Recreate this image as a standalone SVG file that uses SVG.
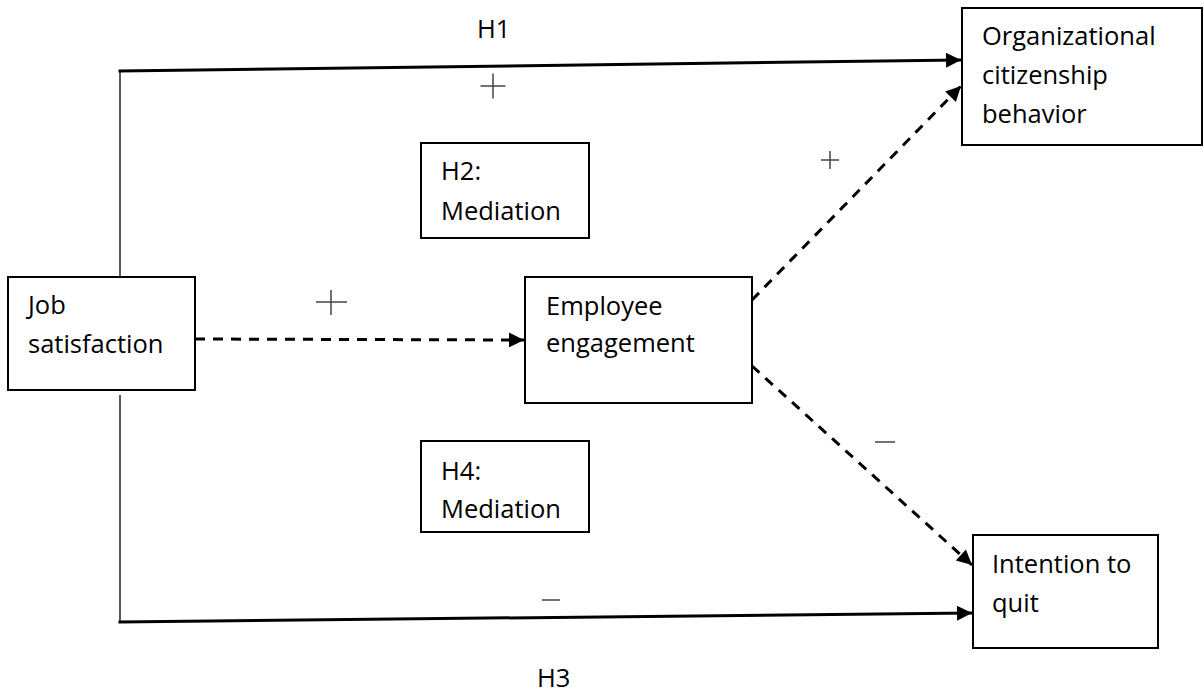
<svg xmlns="http://www.w3.org/2000/svg" width="1204" height="694" viewBox="0 0 1204 694">
<style>
.box{fill:#fff;stroke:#000;stroke-width:2}
.t{font-family:"Open Sans","Liberation Sans",sans-serif;font-size:25.5px;fill:#000}
.solid{fill:none;stroke:#000;stroke-width:3}
.thin{fill:none;stroke:#222;stroke-width:1.5}
.dash{fill:none;stroke:#000;stroke-width:3;stroke-dasharray:10 8}
.sign{fill:none;stroke:#444;stroke-width:1.5}
</style>
<defs>
<marker id="ah" viewBox="0 0 10 10" refX="10" refY="5" markerWidth="17" markerHeight="15" markerUnits="userSpaceOnUse" orient="auto">
<path d="M0,0 L10,5 L0,10 z" fill="#000"/>
</marker>
</defs>
<rect width="1204" height="694" fill="#fff"/>
<g id="connectors">
<line class="thin" x1="120" y1="71" x2="120" y2="277"/>
<line class="solid" x1="118.5" y1="71" x2="961" y2="60" marker-end="url(#ah)"/>
<line class="thin" x1="120" y1="395" x2="120" y2="622"/>
<line class="solid" x1="118.5" y1="622" x2="972" y2="613" marker-end="url(#ah)"/>
<line class="dash" x1="195" y1="339" x2="524" y2="340" marker-end="url(#ah)"/>
<line class="dash" x1="752" y1="300" x2="961" y2="86" marker-end="url(#ah)"/>
<line class="dash" x1="752" y1="366" x2="972" y2="565" marker-end="url(#ah)"/>
</g>
<g id="labels">
<text class="t" x="477" y="38">H1</text>
<text class="t" x="537" y="687">H3</text>
<path class="sign" d="M480.5,86 H505.5 M493,73.5 V98.5"/>
<path class="sign" d="M316,302 H347 M331,290 V315"/>
<path class="sign" d="M821,160 H839 M830,151 V169"/>
<path class="sign" d="M875,442 H895"/>
<path class="sign" d="M542,600 H560"/>
</g>
<g id="job-satisfaction">
<rect class="box" x="8" y="277" width="187" height="113"/>
<text class="t" x="28" y="314">Job</text>
<text class="t" x="28" y="353">satisfaction</text>
</g>
<g id="employee-engagement">
<rect class="box" x="525" y="277" width="227" height="126"/>
<text class="t" x="546" y="315">Employee</text>
<text class="t" x="546" y="352">engagement</text>
</g>
<g id="ocb">
<rect class="box" x="962" y="8" width="240" height="137"/>
<text class="t" x="982" y="45">Organizational</text>
<text class="t" x="982" y="84">citizenship</text>
<text class="t" x="982" y="123">behavior</text>
</g>
<g id="intention-to-quit">
<rect class="box" x="973" y="535" width="185" height="113"/>
<text class="t" x="992" y="573">Intention to</text>
<text class="t" x="992" y="612">quit</text>
</g>
<g id="h2">
<rect class="box" x="421" y="143" width="168" height="95"/>
<text class="t" x="441" y="180">H2:</text>
<text class="t" x="441" y="220">Mediation</text>
</g>
<g id="h4">
<rect class="box" x="421" y="441" width="168" height="91"/>
<text class="t" x="441" y="480">H4:</text>
<text class="t" x="441" y="518">Mediation</text>
</g>
</svg>
